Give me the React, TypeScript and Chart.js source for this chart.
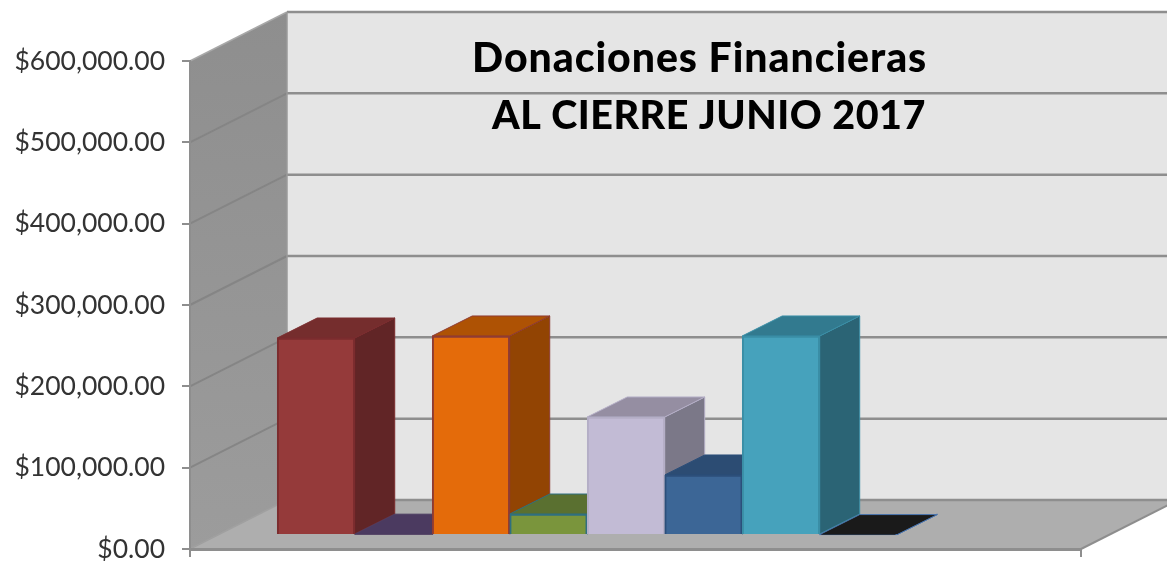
import React, { useEffect, useRef } from "react";
import { Chart, registerables } from "chart.js";

Chart.register(...registerables);

const titleLines = ["Donaciones Financieras", "AL CIERRE JUNIO 2017"];
const positions = [0, 1, 2, 3, 4, 5, 6, 7];
const values = [242200, 1000, 244700, 25800, 145100, 73800, 244700, 500];
const frontColors = ["#953a3a", "#4b3a60", "#e46b0a", "#7a953c", "#c2bbd5", "#3c6696", "#46a2bc", "#1a1a1a"];
const borderColors = ["#7b2c2e", "#4b3a60", "#8f3b33", "#2f6f80", "#b4aec6", "#2c4f7a", "#3a8ea6", "#4a76b0"];
const topColors = ["#752d2d", "#4b3a60", "#ae5204", "#5a7030", "#958ea2", "#2c4c73", "#327a8f", "#1a1a1a"];
const sideColors = ["#612526", "#4b3a60", "#924403", "#5a7030", "#7b7888", "#2c4c73", "#2b6475", "#1a1a1a"];
const yTicks = [0, 100000, 200000, 300000, 400000, 500000, 600000];

const GRID = "#8e8e8e";
const WALL_DX = 97;
const WALL_DY = 49;
const BAR_DX = 26;
const BAR_DY = 14;
const BAR_DEPTH_X = 40;
const BAR_DEPTH_Y = 20;

const poly = (ctx: CanvasRenderingContext2D, pts: number[][], fill: string | CanvasGradient, stroke?: string, lw = 1) => {
  ctx.beginPath();
  pts.forEach((p, i) => (i ? ctx.lineTo(p[0], p[1]) : ctx.moveTo(p[0], p[1])));
  ctx.closePath();
  ctx.fillStyle = fill;
  ctx.fill();
  if (stroke) {
    ctx.strokeStyle = stroke;
    ctx.lineWidth = lw;
    ctx.stroke();
  }
};

const line = (ctx: CanvasRenderingContext2D, x1: number, y1: number, x2: number, y2: number, color: string, lw = 2) => {
  ctx.beginPath();
  ctx.moveTo(x1, y1);
  ctx.lineTo(x2, y2);
  ctx.strokeStyle = color;
  ctx.lineWidth = lw;
  ctx.stroke();
};

const boxPlugin = {
  id: "box3d",
  beforeDraw(chart: any) {
    const { ctx, chartArea: a, scales } = chart;
    const y = scales.y;
    const top = y.getPixelForValue(600000);
    const bottom = y.getPixelForValue(0);
    ctx.save();
    // back wall
    poly(ctx, [[a.left + WALL_DX, top - WALL_DY], [a.right + WALL_DX, top - WALL_DY], [a.right + WALL_DX, bottom - WALL_DY], [a.left + WALL_DX, bottom - WALL_DY]], "#e5e5e5");
    // side wall
    const g = ctx.createLinearGradient(0, top - WALL_DY, 0, bottom);
    g.addColorStop(0, "#8e8e8e");
    g.addColorStop(1, "#9c9c9c");
    poly(ctx, [[a.left, top], [a.left + WALL_DX, top - WALL_DY], [a.left + WALL_DX, bottom - WALL_DY], [a.left, bottom]], g);
    // floor
    poly(ctx, [[a.left, bottom], [a.left + WALL_DX, bottom - WALL_DY], [a.right + WALL_DX, bottom - WALL_DY], [a.right, bottom]], "#aeaeae");
    // grid lines on side and back walls
    yTicks.forEach((v) => {
      const py = y.getPixelForValue(v);
      if (v > 0 && v < 600000) line(ctx, a.left, py, a.left + WALL_DX, py - WALL_DY, "#858585", 2);
      line(ctx, a.left + WALL_DX, py - WALL_DY, a.right + WALL_DX, py - WALL_DY, GRID, 2.5);
    });
    line(ctx, a.left, top, a.left + WALL_DX, top - WALL_DY, "#a8a8a8", 1.5);
    line(ctx, a.left + WALL_DX, top - WALL_DY, a.left + WALL_DX, bottom - WALL_DY, "#9a9a9a", 1.5);
    line(ctx, a.left, bottom, a.left + WALL_DX, bottom - WALL_DY, "#a0a0a0", 1.5);
    line(ctx, a.right, bottom, a.right + WALL_DX, bottom - WALL_DY, "#8e8e8e", 2);
    // title
    ctx.fillStyle = "#000000";
    ctx.textBaseline = "alphabetic";
    ctx.textAlign = "left";
    ctx.font = "900 41px Lato, 'Open Sans', sans-serif";
    (ctx as any).letterSpacing = "0.95px";
    ctx.fillText(titleLines[0], 472, 72);
    (ctx as any).letterSpacing = "0.5px";
    ctx.font = "900 39.5px Lato, 'Open Sans', sans-serif";
    ctx.fillText(titleLines[1], 492, 129);
    (ctx as any).letterSpacing = "0px";
    ctx.restore();
  },
  beforeDatasetsDraw(chart: any) {
    const { ctx } = chart;
    const bars = chart.getDatasetMeta(0).data;
    ctx.save();
    ctx.translate(BAR_DX, -BAR_DY);
    bars.forEach((el: any, i: number) => {
      const l = el.x - el.width / 2;
      const r = el.x + el.width / 2;
      const t = el.y;
      const b = el.base;
      poly(ctx, [[r, t], [r + BAR_DEPTH_X, t - BAR_DEPTH_Y], [r + BAR_DEPTH_X, b - BAR_DEPTH_Y], [r, b]], sideColors[i], borderColors[i], 1);
      poly(ctx, [[l, t], [l + BAR_DEPTH_X, t - BAR_DEPTH_Y], [r + BAR_DEPTH_X, t - BAR_DEPTH_Y], [r, t]], topColors[i], borderColors[i], 1);
    });
    ctx.restore();
  },
  beforeDatasetDraw(chart: any) {
    chart.ctx.save();
    chart.ctx.translate(BAR_DX, -BAR_DY);
  },
  afterDatasetDraw(chart: any) {
    chart.ctx.restore();
  },
};

export default function App() {
  const ref = useRef<HTMLCanvasElement | null>(null);
  useEffect(() => {
    document.body.style.margin = "0";
    document.body.style.background = "#ffffff";
    const chart = new Chart(ref.current as HTMLCanvasElement, {
      type: "bar",
      data: {
        datasets: [
          {
            label: "Donaciones Financieras",
            data: positions.map((x, i) => ({ x, y: values[i] })),
            backgroundColor: frontColors,
            borderColor: borderColors,
            borderWidth: 2,
            barPercentage: 1,
            categoryPercentage: 1,
            clip: false,
          } as any,
        ],
      },
      options: {
        responsive: false,
        animation: false,
        layout: { autoPadding: false, padding: { top: 61, right: 86, bottom: 0, left: 0 } },
        plugins: { legend: { display: false }, title: { display: false }, tooltip: { enabled: false } },
        scales: {
          x: {
            type: "linear",
            offset: false,
            min: -1.29,
            max: 10.207,
            afterBuildTicks: (s: any) => {
              s.ticks = [{ value: s.min }, { value: s.max }];
            },
            afterFit: (s: any) => {
              s.height = 12;
              s.paddingLeft = s.paddingRight = s.paddingTop = s.paddingBottom = 0;
            },
            ticks: { display: false },
            grid: { offset: false, drawOnChartArea: false, drawTicks: true, tickLength: 8, color: GRID, lineWidth: 2 },
            border: { color: GRID, width: 3 },
          },
          y: {
            min: 0,
            max: 600000,
            afterFit: (s: any) => {
              s.width = 190;
              s.paddingLeft = s.paddingRight = s.paddingTop = s.paddingBottom = 0;
            },
            afterBuildTicks: (s: any) => {
              s.ticks = yTicks.map((value) => ({ value }));
            },
            ticks: {
              padding: 17,
              color: "#333333",
              font: { family: "Lato, 'Open Sans', sans-serif", size: 26.5 },
              callback: (v: any) =>
                "$" + Number(v).toLocaleString("en-US", { minimumFractionDigits: 2, maximumFractionDigits: 2 }),
            },
            grid: { drawOnChartArea: false, drawTicks: true, tickLength: 8, color: GRID, lineWidth: 2 },
            border: { color: GRID, width: 2 },
          },
        },
      },
      plugins: [boxPlugin],
    } as any);
    return () => chart.destroy();
  }, []);
  return <canvas ref={ref} width={1167} height={561} style={{ display: "block" }} />;
}
